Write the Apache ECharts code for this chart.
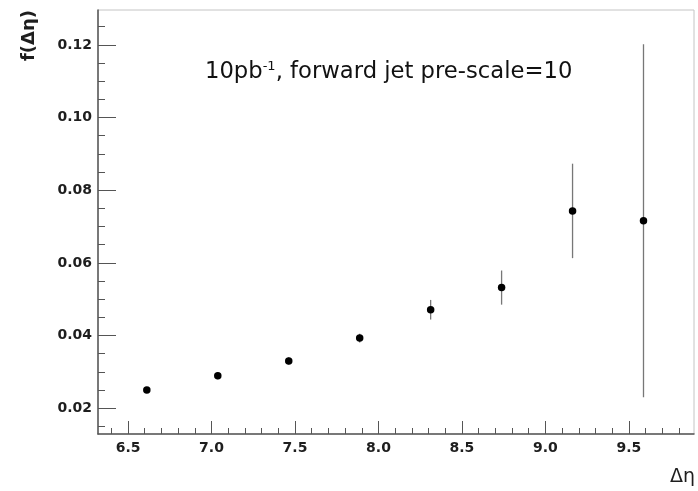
<!DOCTYPE html>
<html><head><meta charset="utf-8">
<script src="https://cdn.jsdelivr.net/npm/echarts@6/dist/echarts.min.js"></script>
<style>html,body{margin:0;padding:0;background:#fff}#c{width:698px;height:491px}</style>
</head><body><div id="c"></div>
<script>
const deltaEta = [6.6125, 7.0375, 7.4625, 7.8875, 8.3125, 8.7375, 9.1625, 9.5875];
const fValues  = [0.0250, 0.0289, 0.0330, 0.0393, 0.0471, 0.0532, 0.0743, 0.0716];
const fErrors  = [0.0008, 0.0009, 0.0010, 0.0012, 0.0027, 0.0047, 0.0130, 0.0486];
const xMajorTicks = [6.5, 7.0, 7.5, 8.0, 8.5, 9.0, 9.5];
const xMinorTicks = [6.4, 6.6, 6.7, 6.8, 6.9, 7.1, 7.2, 7.3, 7.4, 7.6, 7.7, 7.8, 7.9,
  8.1, 8.2, 8.3, 8.4, 8.6, 8.7, 8.8, 8.9, 9.1, 9.2, 9.3, 9.4, 9.6, 9.7, 9.8];
const yMajorTicks = [0.02, 0.04, 0.06, 0.08, 0.10, 0.12];
const yMinorTicks = [0.015, 0.025, 0.03, 0.035, 0.045, 0.05, 0.055, 0.065, 0.07, 0.075,
  0.085, 0.09, 0.095, 0.105, 0.11, 0.115, 0.125];
const xRange = [6.32, 9.89];
const yRange = [0.0129, 0.1296];

const FONT = 'DejaVu Sans';
const axisCol = '#555';
const labelStyle = { fontFamily: FONT, fontWeight: 'bold', fontSize: 14, color: '#1e1e1e' };

const chart = echarts.init(document.getElementById('c'), null, { renderer: 'canvas' });
chart.setOption({
  animation: false,
  backgroundColor: '#fff',
  grid: { left: 98, right: 4, top: 10, bottom: 57, show: true, borderColor: '#c4c4c4', borderWidth: 1 },
  xAxis: [
    { type: 'value', position: 'bottom', min: xRange[0], max: xRange[1],
      axisLine: { show: true, onZero: false, lineStyle: { color: axisCol, width: 1.5 } },
      axisTick: { show: true, inside: true, length: 13, customValues: xMajorTicks, lineStyle: { color: axisCol } },
      axisLabel: { show: true, customValues: xMajorTicks, margin: 7, formatter: v => v.toFixed(1), ...labelStyle },
      splitLine: { show: false } },
    { type: 'value', position: 'bottom', min: xRange[0], max: xRange[1],
      axisLine: { show: false, onZero: false },
      axisTick: { show: true, inside: true, length: 6, customValues: xMinorTicks, lineStyle: { color: axisCol } },
      axisLabel: { show: false }, splitLine: { show: false } }
  ],
  yAxis: [
    { type: 'value', position: 'left', min: yRange[0], max: yRange[1],
      axisLine: { show: true, onZero: false, lineStyle: { color: axisCol, width: 1.5 } },
      axisTick: { show: true, inside: true, length: 18, customValues: yMajorTicks, lineStyle: { color: axisCol } },
      axisLabel: { show: true, customValues: yMajorTicks, margin: 6, formatter: v => v.toFixed(2), ...labelStyle },
      splitLine: { show: false } },
    { type: 'value', position: 'left', min: yRange[0], max: yRange[1],
      axisLine: { show: false, onZero: false },
      axisTick: { show: true, inside: true, length: 7, customValues: yMinorTicks, lineStyle: { color: axisCol } },
      axisLabel: { show: false }, splitLine: { show: false } }
  ],
  graphic: [
    { type: 'text', x: 205, y: 72, silent: true,
      style: { text: '10pb{sup|-1}, forward jet pre-scale=10', fill: '#111',
        font: '22.7px "' + FONT + '"', textVerticalAlign: 'middle',
        rich: { sup: { fontSize: 13, fontFamily: FONT, verticalAlign: 'top', fill: '#111' } } } },
    { type: 'text', x: 29, y: 10, rotation: Math.PI / 2, silent: true,
      style: { text: 'f(Δη)', fill: '#1e1e1e', font: 'bold 18px "' + FONT + '"',
        textAlign: 'right', textVerticalAlign: 'middle' } },
    { type: 'text', x: 695, y: 477, silent: true,
      style: { text: 'Δη', fill: '#1e1e1e', font: '19px "' + FONT + '"',
        textAlign: 'right', textVerticalAlign: 'middle' } }
  ],
  series: [
    { type: 'custom', xAxisIndex: 0, yAxisIndex: 0, clip: false,
      data: deltaEta.map((x, i) => [x, fValues[i], fErrors[i]]),
      encode: { x: 0, y: 1 },
      renderItem: (params, api) => {
        const x = api.value(0), y = api.value(1), e = api.value(2);
        const p1 = api.coord([x, y - e]), p2 = api.coord([x, y + e]);
        return { type: 'line', shape: { x1: p1[0], y1: p1[1], x2: p2[0], y2: p2[1] },
          style: { stroke: '#777', lineWidth: 1.3 } };
      } },
    { type: 'scatter', xAxisIndex: 0, yAxisIndex: 0, symbol: 'circle', symbolSize: 7.5,
      itemStyle: { color: '#000', opacity: 1 },
      data: deltaEta.map((x, i) => [x, fValues[i]]) }
  ]
});
</script></body></html>
